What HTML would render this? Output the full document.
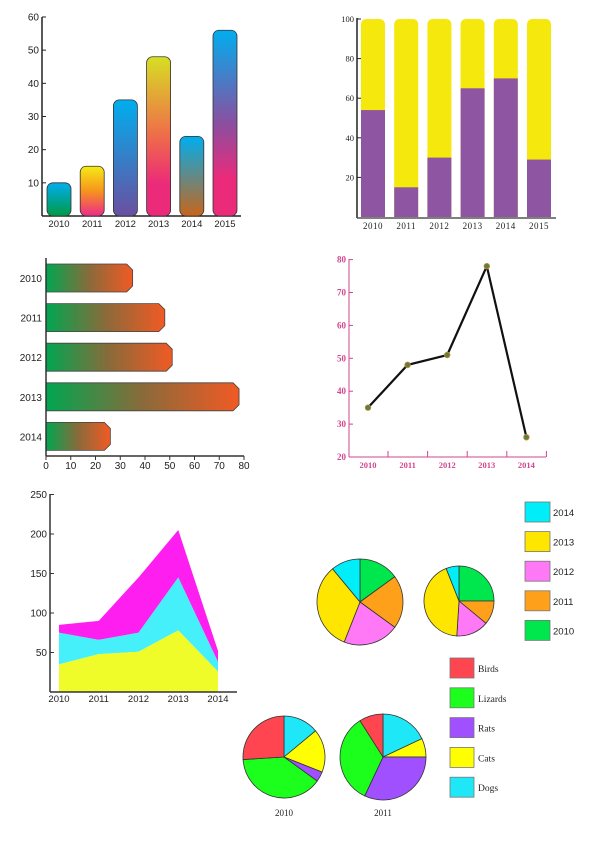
<!DOCTYPE html>
<html><head><meta charset="utf-8"><style>
html,body{margin:0;padding:0;background:#fff;width:596px;height:842px;overflow:hidden}
svg{display:block;font-family:"Liberation Sans",sans-serif}
</style></head><body>
<svg id="s" width="596" height="842" viewBox="0 0 596 842" xmlns="http://www.w3.org/2000/svg">
<defs>
<linearGradient id="g0" x1="0" y1="0" x2="0" y2="1"><stop offset="0" stop-color="#00aeef"/><stop offset="1" stop-color="#009a44"/></linearGradient>
<linearGradient id="g1" x1="0" y1="0" x2="0" y2="1"><stop offset="0" stop-color="#f5ea14"/><stop offset=".5" stop-color="#f7941d"/><stop offset="1" stop-color="#ec2a8a"/></linearGradient>
<linearGradient id="g2" x1="0" y1="0" x2="0" y2="1"><stop offset="0" stop-color="#00aeef"/><stop offset="1" stop-color="#6b4fa0"/></linearGradient>
<linearGradient id="g3" x1="0" y1="0" x2="0" y2="1"><stop offset="0" stop-color="#d7df23"/><stop offset=".5" stop-color="#ef6b4a"/><stop offset=".8" stop-color="#ec2a7a"/><stop offset="1" stop-color="#ec2a7a"/></linearGradient>
<linearGradient id="g4" x1="0" y1="0" x2="0" y2="1"><stop offset="0" stop-color="#00aeef"/><stop offset="1" stop-color="#c8651b"/></linearGradient>
<linearGradient id="g5" x1="0" y1="0" x2="0" y2="1"><stop offset="0" stop-color="#00aeef"/><stop offset=".5" stop-color="#8a4fa0"/><stop offset=".8" stop-color="#ec2a7a"/><stop offset="1" stop-color="#ec2a7a"/></linearGradient>
<linearGradient id="gh" x1="0" y1="0" x2="1" y2="0"><stop offset="0" stop-color="#00a651"/><stop offset=".5" stop-color="#8a6a3a"/><stop offset="1" stop-color="#f15a24"/></linearGradient>
</defs>
<g id="c1"></g>
<g id="c2"></g>
<g id="c3"></g>
<g id="c4"></g>
<g id="c5"></g>
<g id="c6"></g>
</svg>
<script>
const years6 = ["2010","2011","2012","2013","2014","2015"];
const years5 = ["2010","2011","2012","2013","2014"];
const bar1Values = [10,15,35,48,24,56];
const bar1Ticks = [10,20,30,40,50,60];
const stackPurple = [54,15,30,65,70,29];
const stackTicks = [20,40,60,80,100];
const hbarValues = [35,48,51,78,26];
const hbarTicks = [0,10,20,30,40,50,60,70,80];
const lineValues = [35,48,51,78,26];
const lineTicks = [20,30,40,50,60,70,80];
const areaYellow = [35,48,51,78,26];
const areaCyan = [40,18,24,67,12];
const areaMagenta = [10,24,70,60,14];
const areaTicks = [50,100,150,200,250];
const pieTopA = [15,20,21,33,11];
const pieTopB = [25,11,15,43,6];
const pieTopLabels = ["2010","2011","2012","2013","2014"];
const pieBot2010 = [14,17,4,39,26];
const pieBot2011 = [18,7,32,34,9];
const pieBotLabels = ["Dogs","Cats","Rats","Lizards","Birds"];

const NS="http://www.w3.org/2000/svg";
function mk(p,tag,a){const e=document.createElementNS(NS,tag);for(const k in a)e.setAttribute(k,a[k]);p.appendChild(e);return e;}
function tx(p,x,y,t,a){const e=mk(p,'text',Object.assign({x:x,y:y},a||{}));e.textContent=t;return e;}

// chart 1
(function(){
const g=document.getElementById('c1');
const y=v=>216-v*3.317, x=i=>47+i*33.2;
mk(g,'line',{x1:42,y1:17,x2:42,y2:216,stroke:'#222','stroke-width':1.5});
mk(g,'line',{x1:42,y1:216,x2:241,y2:216,stroke:'#222','stroke-width':1.5});
bar1Ticks.forEach(t=>{mk(g,'line',{x1:42,y1:y(t),x2:46,y2:y(t),stroke:'#222'});
const l=tx(g,39,y(t)+3.5,t,{'font-size':10,'text-anchor':'end',fill:'#222'});
});
bar1Values.forEach((v,i)=>{const r=mk(g,'rect',{x:x(i),y:y(v),width:24,height:216-y(v),rx:6,fill:`url(#g${i})`,stroke:'#333','stroke-width':.8});

const l=tx(g,x(i)+12,227,years6[i],{'font-size':9.5,'text-anchor':'middle',fill:'#222'});
});
})();

// chart 2
(function(){
const g=document.getElementById('c2');
const y=v=>217-v*1.98, x=i=>361+i*33.2;
years6.forEach((yr,i)=>{
const t=mk(g,'path',{d:`M${x(i)},217V${y(100)+6}q0,-6 6,-6h12q6,0 6,6V217Z`,fill:'#f4e80c'});

const p=mk(g,'rect',{x:x(i),y:y(stackPurple[i]),width:24,height:217-y(stackPurple[i]),fill:'#8e55a2'});

const l=tx(g,x(i)+12,229,yr,{'font-size':9,'text-anchor':'middle',fill:'#222','font-family':'Liberation Serif, serif','letter-spacing':'.5'});
});
mk(g,'line',{x1:357,y1:18,x2:357,y2:218,stroke:'#222','stroke-width':1.5});
mk(g,'line',{x1:357,y1:218,x2:556,y2:218,stroke:'#555','stroke-width':1.5});
stackTicks.forEach(t=>{mk(g,'line',{x1:357,y1:y(t),x2:361,y2:y(t),stroke:'#222'});
const l=tx(g,354,y(t)+3,t,{'font-size':8.5,'text-anchor':'end',fill:'#222','font-family':'Liberation Serif, serif'});
});
})();

// chart 3
(function(){
const g=document.getElementById('c3');
const x=v=>46+v*2.475, y=i=>264+i*39.6;
hbarValues.forEach((v,i)=>{const a=x(v),b=y(i),h=28;
const p=mk(g,'path',{d:`M46,${b}H${a-6}L${a},${b+6}V${b+h-6}L${a-6},${b+h}H46Z`,fill:'url(#gh)',stroke:'#444','stroke-width':.8});

const l=tx(g,42,b+h/2+4,years5[i],{'font-size':10,'text-anchor':'end',fill:'#222'});
});
mk(g,'line',{x1:46,y1:258,x2:46,y2:456,stroke:'#333','stroke-width':1.5});
mk(g,'line',{x1:46,y1:456,x2:244,y2:456,stroke:'#333','stroke-width':1.5});
hbarTicks.forEach(t=>{mk(g,'line',{x1:x(t),y1:456,x2:x(t),y2:460,stroke:'#333'});
const l=tx(g,x(t),469,t,{'font-size':10,'text-anchor':'middle',fill:'#222'});
});
})();

// chart 4
(function(){
const g=document.getElementById('c4');const pk='#d3458f';
const y=v=>457-(v-20)*3.29, x=i=>368+i*39.6;
mk(g,'line',{x1:349,y1:259,x2:349,y2:457,stroke:pk,'stroke-width':1});
mk(g,'line',{x1:349,y1:457,x2:546,y2:457,stroke:pk,'stroke-width':1});
lineTicks.forEach(t=>{mk(g,'line',{x1:349,y1:y(t),x2:353,y2:y(t),stroke:pk});
const l=tx(g,346,y(t)+3,t,{'font-size':9,'text-anchor':'end',fill:pk,'font-weight':'bold','font-family':'Liberation Serif, serif'});
});
years5.forEach((yr,i)=>{mk(g,'line',{x1:388+i*39.6,y1:451,x2:388+i*39.6,y2:457,stroke:pk});
const l=tx(g,x(i),468,yr,{'font-size':8.5,'text-anchor':'middle',fill:pk,'font-weight':'bold','font-family':'Liberation Serif, serif'});
});
const pl=mk(g,'polyline',{points:lineValues.map((v,i)=>x(i)+','+y(v)).join(' '),fill:'none',stroke:'#111','stroke-width':2.2});

lineValues.forEach((v,i)=>{const c=mk(g,'circle',{cx:x(i),cy:y(v),r:2.8,fill:'#4a8a3a',stroke:'#e07a40','stroke-width':.8});
});
})();

// chart 5
(function(){
const g=document.getElementById('c5');
const y=v=>692-v*0.79, x=i=>59+i*39.75;
const s1=areaYellow, s2=s1.map((v,i)=>v+areaCyan[i]), s3=s2.map((v,i)=>v+areaMagenta[i]);
function area(top,bot,fill,name){const pts=top.map((v,i)=>x(i)+','+y(v)).concat(bot.map((v,i)=>x(i)+','+y(v)).reverse());
const p=mk(g,'polygon',{points:pts.join(' '),fill:fill});}
const zero=s1.map(()=>0);
area(s3,s2,'#ff1ef0','area-magenta');area(s2,s1,'#45f0fa','area-cyan');area(s1,zero,'#f0fc2a','area-yellow');
mk(g,'line',{x1:50,y1:494,x2:50,y2:692,stroke:'#333','stroke-width':1.5});
mk(g,'line',{x1:50,y1:692,x2:237,y2:692,stroke:'#333','stroke-width':1.5});
areaTicks.forEach(t=>{mk(g,'line',{x1:50,y1:y(t),x2:54,y2:y(t),stroke:'#333'});
const l=tx(g,47,y(t)+3.5,t,{'font-size':10,'text-anchor':'end',fill:'#222'});
});
years5.forEach((yr,i)=>{const l=tx(g,x(i),702,yr,{'font-size':9.5,'text-anchor':'middle',fill:'#222'});
});
})();

// pies
(function(){
const g=document.getElementById('c6');
const topCol=['#00e64d','#ffa01a','#ff78f5','#ffe600','#00eef8'];
const botCol=['#1ee8f8','#ffff00','#a050ff','#1cff1c','#ff4650'];
function pie(cx,cy,r,vals,cols,name){const tot=vals.reduce((a,b)=>a+b,0);let a0=0;
vals.forEach((v,i)=>{const a1=a0+v/tot*2*Math.PI;
const x0=cx+r*Math.sin(a0),y0=cy-r*Math.cos(a0),x1=cx+r*Math.sin(a1),y1=cy-r*Math.cos(a1);
const p=mk(g,'path',{d:`M${cx},${cy}L${x0},${y0}A${r},${r} 0 ${a1-a0>Math.PI?1:0} 1 ${x1},${y1}Z`,fill:cols[i],stroke:'#333','stroke-width':.8});
a0=a1;});}
pie(360,602,43,pieTopA,topCol,'pie-top-a');
pie(459,601,35,pieTopB,topCol,'pie-top-b');
pie(284,757,41,pieBot2010,botCol,'pie-2010');
pie(383,757,43,pieBot2011,botCol,'pie-2011');
[['2010',284],['2011',383]].forEach(d=>{const l=tx(g,d[1],816,d[0],{'font-size':9,'text-anchor':'middle',fill:'#222','font-family':'Liberation Serif, serif'});
});
// legends
const tl=['2014','2013','2012','2011','2010'], tc=['#00eef8','#ffe600','#ff78f5','#ffa01a','#00e64d'];
tl.forEach((t,i)=>{const yy=502+i*29.6;
const r=mk(g,'rect',{x:525,y:yy,width:25,height:20,fill:tc[i],stroke:'#777','stroke-width':.8});

const l=tx(g,553,yy+14,t,{'font-size':9.5,fill:'#222'});
});
const bl=['Birds','Lizards','Rats','Cats','Dogs'], bc=['#ff4650','#1cff1c','#a050ff','#ffff00','#1ee8f8'];
bl.forEach((t,i)=>{const yy=658+i*29.8;
const r=mk(g,'rect',{x:450,y:yy,width:24,height:20,fill:bc[i],stroke:'#777','stroke-width':.8});

const l=tx(g,478,yy+14,t,{'font-size':9.5,fill:'#222','font-family':'Liberation Serif, serif'});
});
})();
</script>
</body></html>
